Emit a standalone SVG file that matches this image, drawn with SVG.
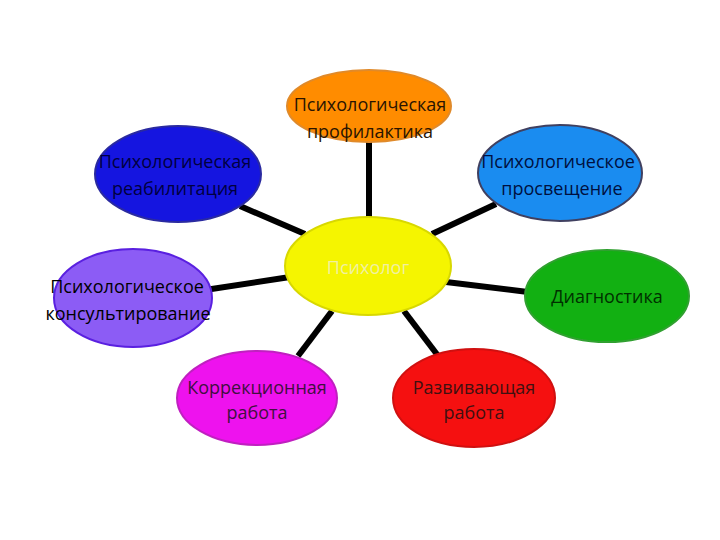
<svg xmlns="http://www.w3.org/2000/svg" width="720" height="540" viewBox="0 0 720 540">
<style>
.c{stroke:#000;stroke-width:6;stroke-linecap:butt}
.e{stroke-width:2}
text{font-family:"Open Sans","Liberation Sans",sans-serif;font-size:18px;text-anchor:middle}
</style>
<rect width="720" height="540" fill="#fff"/>
<g id="connectors">
<line class="c" x1="369" y1="140" x2="369" y2="220"/>
<line class="c" x1="240" y1="206" x2="305" y2="234"/>
<line class="c" x1="496" y1="204" x2="432" y2="234"/>
<line class="c" x1="205" y1="290" x2="290" y2="277"/>
<line class="c" x1="528" y1="292" x2="446" y2="282"/>
<line class="c" x1="332" y1="311" x2="298" y2="356"/>
<line class="c" x1="404" y1="311" x2="439" y2="357"/>
</g>
<g id="n-prof">
<ellipse class="e" cx="369" cy="106" rx="82" ry="36" fill="#ff8c00" stroke="#e08a2a"/>
<text x="370" y="111" fill="#2a1400">Психологическая</text>
<text x="370" y="138" fill="#2a1400">профилактика</text>
</g>
<g id="n-reab">
<ellipse class="e" cx="178" cy="174" rx="83" ry="48" fill="#1515e0" stroke="#2a2aa0"/>
<text x="175" y="168" fill="#000040">Психологическая</text>
<text x="175" y="195" fill="#000040">реабилитация</text>
</g>
<g id="n-pros">
<ellipse class="e" cx="560" cy="173" rx="82" ry="48" fill="#1a8cf0" stroke="#404060"/>
<text x="558" y="168" fill="#001040">Психологическое</text>
<text x="562" y="195" fill="#001040">просвещение</text>
</g>
<g id="n-center">
<ellipse class="e" cx="368" cy="266" rx="83" ry="49" fill="#f5f500" stroke="#d8d800"/>
<text x="368" y="274" fill="#f0f0a0">Психолог</text>
</g>
<g id="n-kons">
<ellipse class="e" cx="133" cy="298" rx="79" ry="49" fill="#8c5cf5" stroke="#5a20e0"/>
<text x="127" y="293" fill="#000">Психологическое</text>
<text x="128" y="320" fill="#000">консультирование</text>
</g>
<g id="n-diag">
<ellipse class="e" cx="607" cy="296" rx="82" ry="46" fill="#12b012" stroke="#30a030"/>
<text x="607" y="303" fill="#003000">Диагностика</text>
</g>
<g id="n-korr">
<ellipse class="e" cx="257" cy="398" rx="80" ry="47" fill="#ee12ee" stroke="#c020c0"/>
<text x="257" y="394" fill="#401040">Коррекционная</text>
<text x="257" y="419" fill="#401040">работа</text>
</g>
<g id="n-razv">
<ellipse class="e" cx="474" cy="398" rx="81" ry="49" fill="#f51010" stroke="#d01010"/>
<text x="474" y="394" fill="#401010">Развивающая</text>
<text x="474" y="419" fill="#401010">работа</text>
</g>
</svg>
